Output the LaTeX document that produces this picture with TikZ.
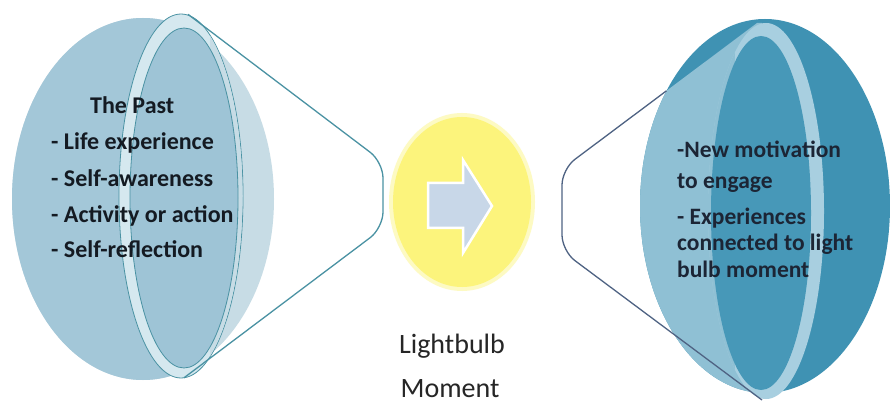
\documentclass[tikz,border=0pt]{standalone}
\usepackage{fontspec}
\setmainfont{Carlito}
\definecolor{lMed}{HTML}{A3C7D8}
\definecolor{lLight}{HTML}{C7DCE5}
\definecolor{lBand}{HTML}{D5E8EF}
\definecolor{lInner}{HTML}{9EC4D6}
\definecolor{lLine}{HTML}{4A92A3}
\definecolor{rDark}{HTML}{3F92B3}
\definecolor{rLight}{HTML}{8FC0D4}
\definecolor{rBand}{HTML}{A8CFE0}
\definecolor{rInner}{HTML}{4798B8}
\definecolor{rLine}{HTML}{4F6383}
\definecolor{yel}{HTML}{FCF47C}
\definecolor{arrowfill}{HTML}{C8D7E8}
\definecolor{txtL}{HTML}{141A22}
\definecolor{txtR}{HTML}{1C2535}
\tikzset{
  conel/.style={line width=1.3pt, rounded corners=16pt},
  ltext/.style={anchor=base west, inner sep=0pt, text=txtL, font=\fontsize{24}{28}\selectfont\bfseries},
  rtext/.style={anchor=base west, inner sep=0pt, text=txtR, font=\fontsize{23.5}{28}\selectfont\bfseries},
  ctext/.style={anchor=base, inner sep=0pt, text=black!85, font=\fontsize{28}{32}\selectfont},
}
\begin{document}
\begin{tikzpicture}[x=1pt,y=-1pt]
\useasboundingbox (0,0) rectangle (891,403);
\fill[white] (0,0) rectangle (891,403);

% ---------- left shape ----------
\begin{scope}
  \clip (143,199) ellipse [x radius=131pt, y radius=181pt];
  \fill[lLight] (0,0) rectangle (400,403);
  \fill[lMed] (0,0) rectangle (181,403);
\end{scope}
\draw[lLine, line width=0.8pt, fill=lBand] (181,196) ellipse [x radius=62pt, y radius=182pt];
\begin{scope}
  \clip (181,196) ellipse [x radius=61.5pt, y radius=181.5pt];
  \fill[lLight] (210,0) rectangle (260,403);
\end{scope}
\draw[lLine, line width=0.8pt, fill=lInner] (184,198) ellipse [x radius=54pt, y radius=170pt];
\coordinate (ltop) at (188,14.3);
\coordinate (lbot) at (184,377.8);
\coordinate (ltip1) at (383,162);
\coordinate (ltip2) at (383,228);
\draw[lLine, conel] (ltop) -- (ltip1) -- (ltip2) -- (lbot);

% ---------- right shape ----------
\begin{scope}
  \clip (765,206) ellipse [x radius=125pt, y radius=187pt];
  \fill[rDark] (600,0) rectangle (900,403);
  \clip (757,23) -- (562,169) -- (540,403) -- (762,403) -- (762,23) -- cycle;
  \fill[rLight] (600,0) rectangle (900,403);
\end{scope}
\fill[rBand] (766,211) ellipse [x radius=58pt, y radius=188pt];
\begin{scope}
  \clip (766,211) ellipse [x radius=58pt, y radius=188pt];
  \fill[rLight] (700,0) rectangle (735,403);
\end{scope}
\fill[rInner] (761,213) ellipse [x radius=50pt, y radius=177pt];
\coordinate (rtop) at (666.5,90.8);
\coordinate (rtip1) at (562,169);
\coordinate (rtip2) at (562,251);
\coordinate (rbot) at (762,400);
\draw[rLine, conel] (rtop) -- (rtip1) -- (rtip2) -- (rbot);

% ---------- lightbulb ----------
\fill[yel, opacity=0.45] (462,202) ellipse [x radius=73pt, y radius=89pt];
\fill[yel] (462,202) ellipse [x radius=69pt, y radius=85pt];
\draw[white, line width=2.5pt, fill=arrowfill, line join=miter]
  (428,183) -- (463,183) -- (463,160) -- (492,206) -- (463,253) -- (463,228) -- (428,228) -- cycle;

% ---------- texts ----------
\node[ltext] (past) at (90,114) {The Past};
\node[ltext] (l1) at (51,150) {- Life experience};
\node[ltext] (l2) at (51,187) {- Self-awareness};
\node[ltext] (l3) at (51,223) {- Activity or action};
\node[ltext] (l4) at (51,258) {- Self-reflection};

\node[rtext] (r1) at (677,158) {-New motivation};
\node[rtext] (r2) at (677,189) {to engage};
\node[rtext] (r3) at (677,225) {- Experiences};
\node[rtext] (r4) at (677,251) {connected to light};
\node[rtext] (r5) at (677,277) {bulb moment};

\node[ctext] (lb1) at (452,353) {Lightbulb};
\node[ctext] (lb2) at (450,397) {Moment};
\end{tikzpicture}
\end{document}
